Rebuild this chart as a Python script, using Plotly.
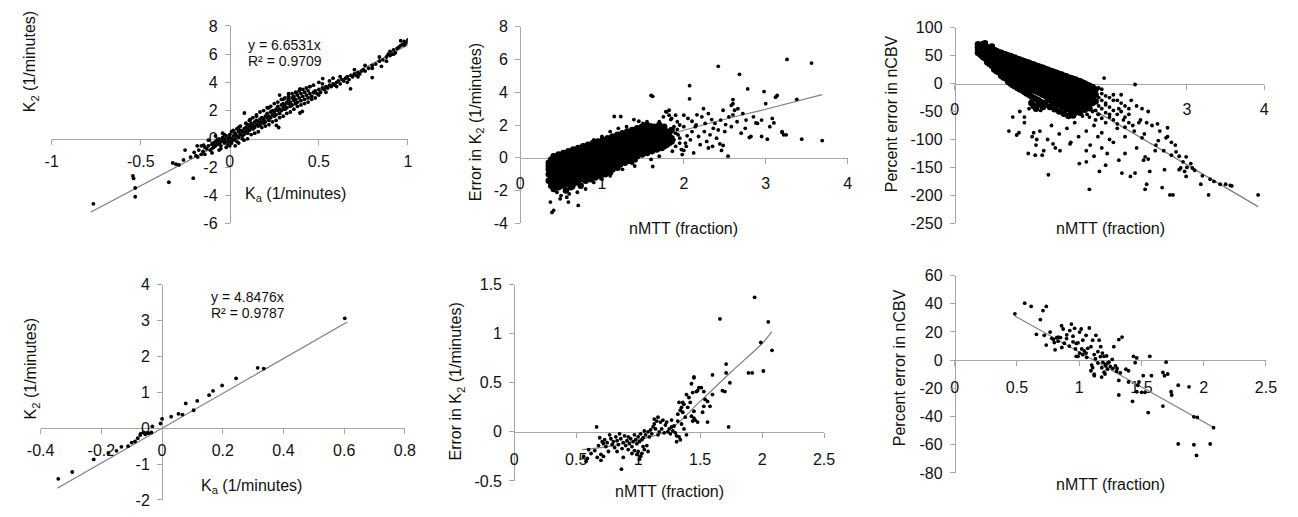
import plotly.graph_objects as go

# The page body keeps its default 8 px margin, so the figure is 16 px smaller
# than the window and all reference pixel positions are shifted by OFF.
WIN_W, WIN_H = 1298, 517
OFF = 8
W, H = WIN_W - 2 * OFF, WIN_H - 2 * OFF

# ---------------- Panel A (top-left): K2 vs Ka ----------------
A_points = [
    (-0.766, -4.61), (-0.544, -2.63), (-0.54, -2.81), (-0.531, -3.49), (-0.531, -4.11),
    (-0.342, -3.08), (-0.205, -2.79), (-0.32, -1.71), (-0.302, -1.80), (-0.285, -1.85),
    (-0.251, -0.80), (-0.20, -0.96), (-0.174, -0.80), (-0.183, -0.50), (-0.147, -0.46),
    (-0.22, -1.3), (-0.19, -1.2), (-0.16, -1.1), (-0.14, -0.6), (-0.26, -1.5),
    (-0.15, -0.9), (-0.13, -0.7), (-0.12, -0.5), (-0.11, -0.8), (-0.10, -0.4), (-0.10, -0.7),
    (-0.09, -0.3), (-0.09, -0.6), (-0.08, -0.5), (-0.08, -0.2), (-0.07, -0.4), (-0.07, -0.1),
    (-0.06, -0.3), (-0.06, 0.0), (-0.05, -0.5), (-0.05, -0.2), (-0.04, -0.1), (-0.04, 0.1),
    (-0.03, -0.3), (-0.03, 0.0), (-0.02, 0.2), (-0.02, -0.2), (-0.01, 0.0), (-0.01, -0.4),
    (0.0, 0.1), (0.0, -0.2), (0.0, 0.3), (0.01, 0.0), (0.01, -0.3), (0.02, 0.2), (0.02, -0.1),
    (0.03, 0.4), (0.03, 0.0), (0.04, 0.2), (0.04, -0.2), (0.05, 0.5), (0.05, 0.1), (0.06, 0.3),
    (0.06, 0.6), (0.07, 0.2), (0.07, 0.5), (0.08, 0.7), (0.08, 0.3), (0.09, 0.5), (0.09, 0.8),
    (0.10, 0.4), (0.10, 0.7), (0.11, 0.9), (0.11, 0.6), (0.12, 0.8), (0.12, 1.1), (0.13, 0.7),
    (0.13, 1.0), (0.14, 1.2), (0.14, 0.8), (0.15, 1.0), (0.15, 1.3), (0.16, 0.9), (0.16, 1.2),
    (0.17, 1.4), (0.17, 1.0), (0.18, 1.2), (0.18, 1.5), (0.19, 1.1), (0.19, 1.4), (0.20, 1.6),
    (0.20, 1.2), (0.21, 1.5), (0.21, 1.8), (0.22, 1.3), (0.22, 1.6), (0.23, 1.9), (0.23, 1.5),
    (0.24, 1.7), (0.24, 2.0), (0.25, 1.6), (0.25, 1.9), (0.26, 2.1), (0.26, 1.7), (0.27, 2.0),
    (0.27, 2.3), (0.28, 1.8), (0.28, 2.1), (0.29, 2.4), (0.29, 2.0), (0.30, 2.2), (0.30, 2.5),
    (0.31, 2.1), (0.31, 2.4), (0.32, 2.6), (0.32, 2.2), (0.33, 2.5), (0.33, 2.8), (0.34, 2.3),
    (0.34, 2.6), (0.35, 2.9), (0.35, 2.4), (0.36, 2.7), (0.36, 3.0), (0.37, 2.5), (0.37, 2.8),
    (0.38, 3.1), (0.38, 2.6), (0.39, 2.9), (0.40, 3.2), (0.40, 2.7), (0.41, 3.0), (0.42, 3.3),
    (0.42, 2.8), (0.43, 3.1), (0.44, 3.4), (0.44, 2.9), (0.45, 3.2), (0.46, 3.0), (0.47, 3.3),
    (0.48, 3.4), (0.49, 3.2), (0.50, 3.5), (0.51, 3.3), (0.52, 3.6), (0.53, 3.5), (0.54, 3.7),
    (0.55, 3.6), (0.56, 3.8), (0.57, 3.7), (0.58, 3.9), (0.59, 3.8), (0.60, 4.0), (0.61, 4.1),
    (0.62, 3.9), (0.63, 4.2), (0.64, 4.1), (0.65, 4.3), (0.66, 4.4), (0.67, 4.2), (0.68, 4.5),
    (0.69, 4.4), (0.70, 4.6), (0.71, 4.5), (0.72, 4.7), (0.73, 4.6), (0.74, 4.8), (0.75, 4.9),
    (0.76, 4.8), (0.78, 5.0), (0.80, 5.2), (0.82, 5.3), (0.84, 5.5), (0.86, 5.6), (0.88, 5.8),
    (0.89, 6.0), (0.90, 6.2), (0.91, 6.0), (0.92, 6.3), (0.93, 6.1), (0.94, 6.4), (0.95, 6.5),
    (0.96, 6.6), (0.97, 6.7), (0.98, 6.9), (0.99, 6.8), (1.0, 7.0),
    (0.082, 1.83), (0.115, 1.37), (0.275, 0.80), (0.262, 0.95), (0.394, 3.54), (0.375, 3.25),
    (0.394, 1.83), (0.407, 1.94), (0.522, 4.27), (0.678, 3.54), (0.80, 4.34), (0.852, 5.14),
    (1.007, 7.08), (0.96, 6.95), (0.98, 6.65), (0.92, 6.0), (0.90, 5.9), (0.15, 1.6),
    (0.22, 2.2), (0.30, 2.8), (0.28, 3.1), (0.33, 3.2), (0.45, 3.7), (0.5, 4.0), (0.58, 4.3),
    (0.02, 0.6), (0.03, -0.5), (0.05, -0.3), (0.06, 0.9), (0.08, -0.1), (0.09, 1.1), (0.10, 0.0),
    (0.11, 1.3), (0.12, 0.3), (0.13, 1.5), (0.14, 0.4), (0.15, 1.7), (0.16, 0.5), (0.17, 1.9),
    (0.18, 0.8), (0.19, 2.0), (0.20, 0.9), (0.21, 2.2), (0.22, 1.0), (0.23, 2.3), (0.24, 1.2),
    (0.25, 2.5), (0.26, 1.3), (0.27, 2.6), (0.28, 1.5), (0.29, 2.8), (0.30, 1.6), (0.31, 2.9),
    (0.32, 1.8), (0.33, 3.0), (0.34, 1.9), (0.35, 3.2), (0.36, 2.1), (0.37, 3.3), (0.38, 2.3),
    (0.39, 3.4), (0.40, 2.4), (0.41, 3.5), (0.42, 2.5), (0.43, 3.6), (0.44, 2.6), (0.45, 3.7),
    (0.46, 2.8), (0.47, 3.8), (0.48, 2.9), (0.50, 3.1), (0.52, 3.9), (0.54, 3.3), (0.56, 4.1),
    (0.60, 3.7), (0.62, 4.4), (0.66, 4.0), (0.70, 4.9), (0.72, 4.4), (0.76, 5.2), (0.80, 5.0),
    (0.84, 5.8), (0.88, 5.5), (-0.02, -0.6), (-0.04, 0.4), (-0.06, -0.8), (-0.08, 0.2),
    (-0.10, -1.0), (-0.12, -0.1), (-0.14, -1.1), (-0.16, -0.5), (-0.18, -1.3), (0.0, -0.5),
    (0.01, 0.5), (0.04, 0.7), (0.07, 0.0), (0.10, 1.0), (0.05, 0.8), (-0.03, 0.3), (-0.05, -0.7),
]
A_slope = 6.6531
A_fit_x = [-0.78, 1.0]

# ---------------- Panel B (top-middle): Error in K2 vs nMTT ----------------
B_columns = {
    0.35: [-0.3, -0.7, -1.0, -1.4, -0.5],
    0.38: [-0.1, -0.6, -0.9, -1.2, -1.7, -0.4],
    0.41: [0.1, -0.3, -0.8, -1.1, -1.5, -1.9, -0.6],
    0.44: [-0.2, -0.5, -0.9, -1.3, -1.6, 0.0, -0.7],
    0.47: [0.2, -0.1, -0.4, -0.8, -1.2, -1.8, -0.6, -1.0],
    0.50: [0.0, -0.3, -0.6, -0.9, -1.1, -1.4, -1.7, -0.2],
    0.53: [0.3, -0.2, -0.5, -0.8, -1.3, -1.5, -0.1, -1.0],
    0.56: [0.1, -0.4, -0.7, -1.0, -1.2, -1.6, -2.0, -0.3],
    0.59: [0.4, 0.0, -0.3, -0.6, -0.9, -1.3, -1.5, -0.5],
    0.62: [0.2, -0.1, -0.5, -0.8, -1.1, -1.4, -1.8, -0.3],
    0.65: [0.5, 0.1, -0.2, -0.6, -0.9, -1.2, -0.4, -1.6],
    0.68: [0.3, 0.0, -0.4, -0.7, -1.0, -1.3, -0.2, -1.5],
    0.71: [0.6, 0.2, -0.1, -0.5, -0.8, -1.1, -1.4, -0.3],
    0.74: [0.4, 0.1, -0.3, -0.6, -0.9, -1.2, -0.1, -1.7],
    0.77: [0.7, 0.3, 0.0, -0.4, -0.7, -1.0, -1.3, -0.2],
    0.80: [0.5, 0.2, -0.2, -0.5, -0.8, -1.1, 0.0, -1.4],
    0.83: [0.8, 0.4, 0.1, -0.3, -0.6, -0.9, -1.2, -0.1],
    0.86: [0.6, 0.3, -0.1, -0.4, -0.7, -1.0, 0.1, -1.3],
    0.89: [0.9, 0.5, 0.2, -0.2, -0.5, -0.8, -1.1, 0.0],
    0.92: [0.7, 0.4, 0.0, -0.3, -0.6, -0.9, 0.2, -1.2],
    0.95: [1.0, 0.6, 0.3, -0.1, -0.4, -0.7, -1.0, 0.1],
    0.98: [0.8, 0.5, 0.2, -0.2, -0.5, -0.8, 0.0, -1.1],
    1.01: [1.1, 0.7, 0.4, 0.0, -0.3, -0.6, -0.9, 0.2],
    1.04: [0.9, 0.6, 0.3, -0.1, -0.4, -0.7, 0.1, -1.0],
    1.07: [1.2, 0.8, 0.5, 0.1, -0.2, -0.5, -0.8, 0.3],
    1.10: [1.0, 0.7, 0.4, 0.0, -0.3, -0.6, 0.2, -0.9],
    1.13: [1.3, 0.9, 0.6, 0.2, -0.1, -0.4, -0.7, 0.4],
    1.16: [1.1, 0.8, 0.5, 0.1, -0.2, -0.5, 0.3],
    1.19: [1.4, 1.0, 0.7, 0.3, 0.0, -0.3, -0.6, 0.5],
    1.22: [1.2, 0.9, 0.6, 0.2, -0.1, -0.4, 0.4],
    1.25: [1.5, 1.1, 0.8, 0.4, 0.1, -0.2, 0.6],
    1.28: [1.3, 1.0, 0.7, 0.3, 0.0, -0.3, 0.5],
    1.31: [1.6, 1.2, 0.9, 0.5, 0.2, -0.1, 0.7],
    1.34: [1.4, 1.1, 0.8, 0.4, 0.1, -0.2, 0.6],
    1.37: [1.7, 1.3, 1.0, 0.6, 0.3, 0.0, 0.8],
    1.40: [1.5, 1.2, 0.9, 0.5, 0.2, -0.1, 0.7],
    1.43: [1.8, 1.4, 1.1, 0.7, 0.4, 0.1],
    1.46: [1.6, 1.3, 1.0, 0.6, 0.3, 0.8],
    1.49: [1.9, 1.5, 1.2, 0.8, 0.5, 0.2],
    1.52: [1.7, 1.4, 1.1, 0.7, 0.4, 0.9],
    1.55: [2.0, 1.6, 1.3, 0.9, 0.6, 0.3],
    1.58: [1.8, 1.5, 1.2, 0.8, 0.5, 1.0],
    1.61: [1.7, 1.4, 1.1, 0.7, 0.4],
    1.64: [1.9, 1.6, 1.3, 0.9, 0.6],
    1.67: [1.8, 1.5, 1.2, 0.8, 0.5],
    1.70: [2.0, 1.4, 1.1, 0.9, 0.7],
    1.73: [1.7, 1.3, 1.0, 0.8, 0.6],
    1.76: [1.9, 1.5, 1.2, 0.9, 0.7],
    1.79: [1.6, 1.3, 1.0, 0.8],
    1.82: [1.4, 1.1, 0.9],
    1.85: [1.7, 1.2, 1.0],
}
B_scatter = [
    (3.26, 6.0), (3.56, 5.78), (2.42, 5.58), (2.68, 5.09), (2.78, 4.2), (2.07, 4.4), (2.07, 3.6),
    (1.60, 3.8), (1.62, 3.75), (2.98, 4.04), (3.14, 3.8), (3.12, 3.7), (3.38, 3.57), (3.69, 1.05),
    (3.44, 1.14), (3.22, 1.40), (3.20, 1.55), (3.02, 1.14), (3.10, 2.13), (2.95, 1.30), (2.80, 1.24),
    (2.88, 2.13), (2.60, 2.62), (2.58, 3.2), (2.60, 3.55), (2.51, 2.03), (2.46, 0.45), (2.54, 0.1),
    (2.44, 0.85), (2.48, 0.75), (2.34, 2.33), (2.24, 3.0), (2.16, 2.62), (2.10, 2.23), (2.04, 1.34),
    (2.00, 0.45), (1.92, 1.74), (1.84, 2.33), (1.78, 2.82), (1.66, 1.64), (1.45, 2.23), (1.39, 2.33),
    (1.23, 2.52), (1.15, 2.52), (1.62, -0.53), (1.37, -0.33), (0.37, -2.70), (0.41, -3.2),
    (0.39, -3.33), (0.49, -2.5), (0.59, -2.7), (0.71, -2.9), (0.57, -2.4),
    (1.88, 1.9), (1.90, 0.7), (1.92, 2.2), (1.95, 1.2), (1.97, 0.5), (2.00, 1.9), (2.02, 0.9),
    (2.05, 2.4), (2.08, 1.1), (2.10, 1.6), (2.12, 0.3), (2.15, 2.0), (2.18, 1.3), (2.20, 0.8),
    (2.22, 2.5), (2.25, 1.6), (2.28, 1.0), (2.30, 2.7), (2.32, 1.4), (2.35, 0.7), (2.38, 2.1),
    (2.40, 1.2), (2.42, 1.7), (2.45, 2.3), (2.50, 1.6), (2.55, 2.5), (2.58, 1.9), (2.62, 2.9),
    (2.65, 2.2), (2.70, 1.5), (2.72, 2.7), (2.75, 1.8), (2.82, 1.3), (2.85, 2.5), (2.90, 2.1),
    (3.05, 1.9), (3.08, 2.4), (3.20, 1.6), (3.25, 1.4), (2.00, 2.6), (1.85, 2.4), (1.82, 2.9),
    (2.14, 1.9), (2.26, 2.1), (2.36, 1.8), (1.86, 0.4), (1.98, 0.2), (2.03, 0.7), (2.30, 0.6),
    (2.48, 2.9), (2.60, 3.3), (2.66, 3.0), (2.76, 2.3), (2.95, 2.3), (3.00, 3.3), (1.70, 2.2),
    (1.75, 2.5), (1.60, 2.0), (1.55, 2.2), (1.50, 2.1), (1.30, 1.9), (1.20, 1.8), (1.10, 1.6),
    (1.00, 1.3), (0.90, 1.1), (1.40, -0.5), (1.25, -0.7), (1.60, -0.1), (1.70, 0.1), (0.80, -1.9),
    (0.70, -2.1), (0.60, -2.2), (0.50, -2.3), (0.45, -2.1), (0.55, -1.9), (0.65, -1.8),
    (0.90, -1.5), (1.00, -1.3), (1.10, -1.1), (1.79, 2.8), (1.82, 2.6), (1.90, 2.6), (1.90, 1.5),
    (1.95, 2.0), (1.95, 0.9), (1.93, 1.4), (1.88, 1.1),
]
B_fit_x = [0.35, 0.7, 1.0, 1.4, 1.76, 2.0, 2.5, 3.0, 3.69]
B_fit_y = [-1.12, -0.45, 0.1, 0.78, 1.34, 1.68, 2.35, 2.96, 3.85]

# ---------------- Panel C (top-right): Percent error in nCBV vs nMTT ----------------
C_columns = {
    0.30: [70, 65, 60, 55],
    0.33: [68, 62, 57, 52, 66],
    0.36: [70, 64, 58, 53, 48],
    0.39: [67, 61, 55, 50, 45, 72],
    0.42: [65, 59, 53, 47, 42, 38],
    0.45: [63, 57, 51, 45, 40, 35],
    0.48: [61, 55, 49, 43, 37, 32, 66],
    0.51: [60, 54, 48, 42, 36, 30, 25],
    0.54: [58, 52, 46, 40, 34, 28, 22],
    0.57: [56, 50, 44, 38, 32, 26, 20],
    0.60: [55, 49, 43, 37, 31, 25, 19, 14],
    0.63: [53, 47, 41, 35, 29, 23, 17, 11],
    0.66: [52, 46, 40, 34, 28, 22, 16, 9],
    0.69: [50, 44, 38, 32, 26, 20, 14, 7, 3],
    0.72: [49, 43, 37, 31, 25, 19, 13, 6, 0],
    0.75: [47, 41, 35, 29, 23, 17, 11, 4, -3],
    0.78: [46, 40, 34, 28, 22, 16, 10, 3, -5],
    0.81: [44, 38, 32, 26, 20, 14, 8, 1, -8],
    0.84: [43, 37, 31, 25, 19, 13, 7, 0, -10],
    0.87: [41, 35, 29, 23, 17, 11, 5, -2, -12],
    0.90: [40, 34, 28, 22, 16, 10, 4, -4, -15],
    0.93: [38, 32, 26, 20, 14, 8, 2, -6, -18],
    0.96: [37, 31, 25, 19, 13, 7, 1, -8, -20],
    0.99: [35, 29, 23, 17, 11, 5, -1, -10, -23, -35],
    1.02: [34, 28, 22, 16, 10, 4, -3, -12, -26, -40],
    1.05: [32, 26, 20, 14, 8, 2, -5, -14, -28, -45],
    1.08: [31, 25, 19, 13, 7, 1, -7, -16, -30, -38],
    1.11: [29, 23, 17, 11, 5, -1, -9, -18, -33],
    1.14: [28, 22, 16, 10, 4, -2, -11, -20, -35, -42],
    1.17: [26, 20, 14, 8, 2, -4, -13, -22, -37],
    1.20: [25, 19, 13, 7, 1, -5, -15, -24, -30],
    1.23: [23, 17, 11, 5, -1, -7, -17, -26, -42],
    1.26: [22, 16, 10, 4, -2, -8, -19, -28, -35],
    1.29: [20, 14, 8, 2, -4, -10, -21, -30, -46],
    1.32: [19, 13, 7, 1, -5, -12, -23, -32, -38],
    1.35: [17, 11, 5, -1, -7, -14, -25, -34, -50],
    1.38: [16, 10, 4, -2, -8, -16, -27, -36, -43],
    1.41: [14, 8, 2, -4, -10, -18, -29, -38, -54],
    1.44: [13, 7, 1, -5, -12, -20, -31, -40, -46],
    1.47: [11, 5, -1, -7, -14, -22, -33, -42, -58],
    1.50: [10, 4, -2, -8, -16, -24, -35, -44, -50],
    1.53: [8, 2, -4, -10, -18, -26, -37, -46, -57],
    1.56: [7, 1, -5, -12, -20, -28, -39, -48],
    1.59: [5, -1, -7, -14, -22, -30, -41],
    1.62: [4, -2, -9, -16, -24, -32, -43, -52],
    1.65: [2, -4, -11, -18, -26, -34, -45],
    1.68: [0, -6, -13, -20, -28, -36, -47],
    1.71: [-2, -9, -16, -24, -32, -40],
    1.74: [-4, -12, -20, -30, -44],
    1.78: [-6, -15, -25, -35],
    1.82: [-10, -20, -32],
}
C_scatter = [
    (1.93, 9.8), (2.33, -1.7), (3.92, -199), (3.56, -182), (3.58, -183), (3.43, -180), (3.28, -199),
    (3.18, -180), (3.30, -171), (3.05, -143), (3.07, -151), (2.99, -131), (2.97, -157), (2.99, -166),
    (2.90, -154), (2.92, -151), (2.80, -128), (2.86, -122), (2.82, -199), (2.78, -199), (2.71, -154),
    (2.75, -79), (2.73, -97), (2.63, -102), (2.59, -120), (2.52, -157), (2.48, -180), (2.44, -137),
    (2.46, -131), (2.42, -97), (2.38, -70), (2.33, -160), (2.27, -166), (2.16, -160), (2.12, -137),
    (1.97, -125), (1.95, -146), (1.87, -157), (1.74, -189), (1.70, -120), (1.61, -143), (1.49, -108),
    (1.36, -120), (1.27, -108), (1.21, -163), (1.13, -128), (1.04, -128), (0.83, -88), (1.02, -88),
    (1.06, -100), (2.46, -189), (2.68, -186), (0.70, -85), (0.80, -92), (0.90, -70), (1.00, -95),
    (1.05, -110), (1.10, -85), (1.20, -100), (1.25, -75), (1.30, -115), (1.35, -90), (1.45, -80),
    (1.50, -105), (1.55, -70), (1.60, -95), (1.70, -85), (1.75, -110), (1.80, -75), (1.85, -95),
    (1.90, -88), (2.00, -100), (0.95, -125), (1.15, -120), (0.75, -60),
    (1.90, -10), (1.95, -35), (2.00, -55), (2.05, -30), (2.10, -80), (2.15, -20), (2.20, -95),
    (2.25, -55), (2.30, -75), (2.35, -40), (2.40, -65), (2.45, -90), (2.50, -50), (2.55, -75),
    (2.60, -110), (2.65, -85), (2.70, -120), (2.75, -95), (2.80, -105), (2.85, -110), (2.90, -130),
    (2.95, -140), (3.00, -150), (3.10, -155), (3.20, -165), (3.35, -175), (3.50, -180),
    (2.05, -105), (2.20, -125), (2.35, -115), (2.50, -135), (1.90, -115), (1.80, -130),
    (1.70, -140), (1.85, -55), (2.12, -45), (2.28, -30), (2.42, -45), (2.18, -65), (2.32, -85),
    (2.48, -70), (2.62, -72), (0.84, -50), (0.90, -60), (0.96, -45), (1.11, -48), (1.20, -40),
    (1.26, -44), (1.32, -48), (1.38, -52), (1.44, -56), (1.56, -55), (1.59, -52), (1.65, -58),
    (1.71, -55), (1.74, -60), (1.78, -50), (1.82, -48), (1.82, -65), (1.86, -8), (1.86, -25),
    (1.86, -40), (1.86, -55), (1.90, -18), (1.90, -30), (1.90, -45), (1.90, -62), (1.95, -22),
    (1.95, -38), (1.95, -52), (1.95, -70), (2.00, -25), (2.00, -42), (2.00, -60), (2.05, -20),
    (2.05, -48), (2.05, -65), (2.10, -30), (2.10, -55), (2.10, -72), (2.15, -35), (2.15, -50),
    (2.20, -40), (2.20, -60), (2.20, -78), (2.25, -45), (2.25, -70),
]
C_fit_x = [0.30, 3.92]
C_fit_y = [74.5, -220]
C_xtick_vals = [0, 3, 4]   # labels 1 and 2 are hidden under the point cloud in the source

# ---------------- Panel D (bottom-left): K2 vs Ka ----------------
D_points = [
    (0.602, 3.06), (0.315, 1.68), (0.335, 1.66), (0.244, 1.39), (0.198, 1.19), (0.168, 1.04),
    (0.155, 0.92), (0.116, 0.76), (0.104, 0.50), (0.078, 0.69), (0.067, 0.38), (0.054, 0.40),
    (0.030, 0.32), (0.0, 0.26), (-0.005, 0.13), (-0.032, 0.05), (-0.06, -0.12), (-0.05, -0.13),
    (-0.045, -0.14), (-0.035, -0.12), (-0.07, -0.15), (-0.055, -0.17), (-0.072, -0.19),
    (-0.08, -0.28), (-0.089, -0.37), (-0.10, -0.40), (-0.112, -0.50), (-0.134, -0.52),
    (-0.15, -0.63), (-0.177, -0.69), (-0.225, -0.87), (-0.296, -1.22), (-0.342, -1.41),
]
D_slope = 4.8476
D_fit_x = [-0.345, 0.61]

# ---------------- Panel E (bottom-middle): Error in K2 vs nMTT ----------------
E_points = [
    (1.94, 1.37), (1.66, 1.15), (2.05, 1.12), (1.99, 0.91), (2.08, 0.83), (1.71, 0.69), (1.71, 0.60),
    (1.89, 0.60), (1.92, 0.60), (2.01, 0.62), (1.74, 0.50), (1.68, 0.42), (1.70, 0.41), (1.60, 0.58),
    (1.45, 0.56), (1.43, 0.49), (1.47, 0.41), (1.48, 0.42), (1.53, 0.41), (1.51, 0.45), (1.60, 0.38),
    (1.56, 0.31), (1.58, 0.26), (1.56, 0.10), (1.39, 0.38), (1.36, 0.30), (1.33, 0.30), (1.35, 0.25),
    (1.34, 0.22), (1.32, 0.18), (1.45, 0.21), (1.43, 0.16), (1.45, 0.14), (1.46, 0.12), (1.44, 0.11),
    (1.48, 0.10), (1.73, 0.05), (1.32, 0.11), (1.29, 0.06), (1.27, 0.05),
    (1.20, 0.12), (1.18, 0.10), (1.15, 0.11), (1.13, 0.08), (1.22, 0.07), (1.25, 0.03), (1.24, 0.00),
    (1.26, -0.02), (1.28, 0.01), (1.30, -0.01), (1.31, -0.04), (1.33, -0.05), (1.21, -0.01),
    (1.19, 0.03), (1.17, 0.00), (1.16, -0.03), (1.14, 0.03), (1.12, 0.05), (1.10, 0.02), (1.11, -0.02),
    (1.09, -0.05), (1.08, 0.00), (1.06, -0.03), (1.05, 0.01), (1.04, -0.06), (1.03, -0.08),
    (1.02, -0.02), (1.01, -0.10), (1.00, -0.05), (0.99, -0.12), (0.98, -0.08), (0.97, -0.03),
    (0.96, -0.10), (0.95, -0.15), (0.94, -0.07), (0.93, -0.12), (0.92, -0.05), (0.91, -0.09),
    (0.90, -0.14), (0.89, -0.04), (0.88, -0.11), (0.87, -0.17), (0.86, -0.07), (0.85, -0.02),
    (0.84, -0.13), (0.83, -0.09), (0.82, -0.05), (0.81, -0.16), (0.80, -0.10), (0.79, -0.13),
    (0.78, -0.07), (0.77, -0.03), (0.76, -0.20), (0.75, -0.11), (0.74, -0.15), (0.73, -0.08),
    (0.72, -0.12), (0.71, -0.10), (0.70, -0.23), (0.69, -0.06), (0.68, -0.14), (0.67, -0.26),
    (0.665, 0.05), (0.65, -0.19), (0.62, -0.22), (0.60, -0.18), (0.58, -0.30), (0.56, -0.25),
    (0.59, -0.27), (1.00, -0.20), (1.02, -0.25), (1.03, -0.22), (1.05, -0.18), (1.01, -0.28),
    (0.99, -0.23), (1.07, -0.14), (1.08, -0.20), (0.97, -0.19), (1.04, -0.15), (0.865, -0.38),
    (0.70, -0.29), (0.72, -0.25), (0.83, -0.20), (0.88, -0.26), (0.92, -0.18), (0.95, -0.22),
    (1.13, 0.13), (1.16, 0.15), (1.23, 0.10), (1.27, 0.12), (1.35, 0.08), (1.38, 0.15),
    (1.40, 0.25), (1.42, 0.30), (1.31, -0.10), (1.34, -0.08), (1.37, 0.03), (1.39, -0.03),
    (1.36, 0.20), (1.41, 0.35), (1.44, 0.40), (1.37, 0.28), (1.53, 0.26), (1.54, 0.33),
    (1.52, 0.20), (1.49, 0.45), (1.45, 0.55),
]
E_fit_x = [0.55, 0.75, 1.0, 1.25, 1.5, 1.75, 2.0, 2.08]
E_fit_y = [-0.18, -0.15, -0.08, 0.02, 0.31, 0.61, 0.90, 1.02]

# ---------------- Panel F (bottom-right): Percent error in nCBV vs nMTT ----------------
F_points = [
    (0.483, 32.9), (0.562, 40.4), (0.614, 38.1), (0.735, 38.1), (0.709, 35.2), (0.688, 28.8),
    (0.656, 18.3), (0.719, 17.6), (0.735, 10.7), (0.766, 19.9), (0.793, 14.6), (0.819, 16.0),
    (0.832, 16.4), (0.806, 7.3), (0.858, 24.4), (0.871, 22.1), (0.898, 15.3), (0.924, 21.0),
    (0.937, 25.6), (0.963, 22.6), (0.950, 13.0), (0.976, 11.9), (0.990, 12.3), (1.003, 19.9),
    (1.016, 22.1), (1.081, 22.8), (1.055, 17.6), (1.029, 14.2), (0.976, 2.7), (0.990, 2.7),
    (1.003, 5.0), (1.029, 3.9), (1.055, 5.0), (1.068, 8.4), (1.094, 9.6), (1.108, 14.2),
    (1.134, 17.6), (1.160, 14.2), (1.173, 9.6), (1.186, 5.0), (1.199, 2.7), (1.213, -4.1),
    (1.239, -1.4), (1.265, 0.5), (1.108, -5.3), (1.094, -7.5), (1.121, -11.0), (1.181, -5.3),
    (1.207, -9.8), (1.226, -6.4), (1.291, -4.1), (1.304, -5.9), (1.344, 16.4), (1.318, 14.6),
    (1.278, 9.6), (1.375, -6.4), (1.396, -7.5), (1.396, -15.5), (1.318, -14.4), (1.436, 2.7),
    (1.449, -1.8), (1.462, 1.6), (1.428, -29.2), (1.462, -22.4), (1.470, -17.8), (1.480, -15.5),
    (1.501, -22.8), (1.514, -11.0), (1.318, -24.7), (1.567, 2.7), (1.580, -11.0), (1.528, -22.8),
    (1.554, -37.2), (1.672, -8.7), (1.685, -11.0), (1.698, -1.4), (1.711, -9.8), (1.738, -22.4),
    (1.672, -32.6), (1.743, -24.7), (1.795, -17.8), (1.882, -18.9), (1.921, -40.2), (1.948, -40.6),
    (1.921, -60.0), (1.942, -67.6), (1.795, -59.4), (2.052, -59.4), (2.079, -47.9),
    (1.02, 8.0), (1.04, 6.5), (1.06, 2.0), (1.12, 4.0), (1.15, 6.0), (1.17, 2.5), (1.19, -1.5),
    (1.21, -3.0), (1.23, -2.0), (1.25, -4.5), (1.15, -2.0), (1.10, -3.5), (1.13, 1.0), (1.22, 3.0),
    (1.27, -6.0), (1.30, -8.0), (1.33, -9.0), (1.20, -8.5), (1.18, -12.0), (1.12, -10.0),
    (0.85, 16.0), (0.88, 12.0), (0.90, 18.0), (0.92, 10.0), (0.95, 17.0), (0.97, 8.0),
    (0.80, 12.5), (0.78, 15.5), (0.83, 13.5), (0.86, 9.0),
]
F_fit_x = [0.483, 2.084]
F_fit_y = [31.3, -48.0]


def unzip(pts):
    return [p[0] for p in pts], [p[1] for p in pts]


def cols_to_xy(cols):
    xs, ys = [], []
    for x, yl in cols.items():
        for y in yl:
            xs.append(x)
            ys.append(y)
    return xs, ys


Ax, Ay = unzip(A_points)
Bx1, By1 = cols_to_xy(B_columns)
Bx2, By2 = unzip(B_scatter)
Cx1, Cy1 = cols_to_xy(C_columns)
Cx2, Cy2 = unzip(C_scatter)
Dx, Dy = unzip(D_points)
Ex, Ey = unzip(E_points)
Fx, Fy = unzip(F_points)

# (dense-core points, other points, fit x, fit y, fit shape)
series = [
    ([], [], Ax, Ay, A_fit_x, [A_slope * v for v in A_fit_x], "linear"),
    (Bx1, By1, Bx2, By2, B_fit_x, B_fit_y, "spline"),
    (Cx1, Cy1, Cx2, Cy2, C_fit_x, C_fit_y, "linear"),
    ([], [], Dx, Dy, D_fit_x, [D_slope * v for v in D_fit_x], "linear"),
    ([], [], Ex, Ey, E_fit_x, E_fit_y, "spline"),
    ([], [], Fx, Fy, F_fit_x, F_fit_y, "linear"),
]


def fmt(v):
    s = ("%.2f" % v).rstrip("0").rstrip(".")
    return "0" if s in ("-0", "") else s


# pixel boxes of each plot area, in window (reference) pixels
panels = [
    dict(xr=[-1, 1], xd=0.5, yr=[-6, 8], yd=2, px=(38.3, 401.5), py=(18.3, 222.7), sx=3),
    dict(xr=[0, 4], xd=1, yr=[-4, 8], yd=2, px=(516, 850), py=(19, 222.7), sx=6),
    dict(xr=[0, 4], xd=1, yr=[-250, 100], yd=50, px=(959.3, 1275), py=(20, 222.7), sx=6,
         xtv=C_xtick_vals),
    dict(xr=[-0.4, 0.8], xd=0.2, yr=[-2, 4], yd=1, px=(27, 398.5), py=(286, 509), sx=3),
    dict(xr=[0, 2.5], xd=0.5, yr=[-0.5, 1.5], yd=0.5, px=(510, 826), py=(286, 489.3), sx=8),
    dict(xr=[0, 2.5], xd=0.5, yr=[-80, 60], yd=20, px=(959.3, 1276.7), py=(276.7, 481), sx=8),
]


def fx_(px):
    return (px - OFF) / W


def fy_(py):
    return 1 - (py - OFF) / H


AXC = "#a6a6a6"
FONT = "Liberation Sans, Arial, sans-serif"
tickfont = dict(family=FONT, size=16, color="#111111")

fig = go.Figure()
layout = dict(
    width=W, height=H, margin=dict(l=0, r=0, t=0, b=0, pad=0),
    paper_bgcolor="white", plot_bgcolor="white", showlegend=False,
)

for i, (p, s) in enumerate(zip(panels, series)):
    n = "" if i == 0 else str(i + 1)
    xmin, xmax = p["xr"]
    ymin, ymax = p["yr"]
    xd = [fx_(p["px"][0]), fx_(p["px"][1])]
    yd = [max(0.0, fy_(p["py"][1])), fy_(p["py"][0])]
    ypos = yd[0] + (0 - ymin) / (ymax - ymin) * (yd[1] - yd[0])
    xpos = xd[0] + (0 - xmin) / (xmax - xmin) * (xd[1] - xd[0])
    nx = int(round((xmax - xmin) / p["xd"]))
    ny = int(round((ymax - ymin) / p["yd"]))
    xtv = p.get("xtv", [xmin + k * p["xd"] for k in range(nx + 1)])
    ytv = [ymin + k * p["yd"] for k in range(ny + 1)]
    common = dict(showline=True, linecolor=AXC, linewidth=1, ticks="outside", ticklen=5,
                  tickcolor=AXC, tickwidth=1, showgrid=False, zeroline=False,
                  layer="below traces", tickfont=tickfont, anchor="free")
    layout["xaxis" + n] = dict(domain=xd, range=[xmin, xmax], position=ypos,
                               tickvals=xtv, ticktext=[fmt(v) for v in xtv],
                               ticklabelstandoff=p["sx"], **common)
    layout["yaxis" + n] = dict(domain=yd, range=[ymin, ymax], position=xpos,
                               tickvals=ytv, ticktext=[fmt(v) for v in ytv],
                               ticklabelstandoff=4, **common)
    cx, cy, ox, oy, fxs, fys, shape = s
    # trend line first, so the point cloud is drawn over it as in the source
    fig.add_trace(go.Scatter(x=fxs, y=fys, mode="lines",
                             line=dict(color="#7f7f7f", width=1.2, shape=shape),
                             xaxis="x" + n, yaxis="y" + n, hoverinfo="skip"))
    if cx:
        fig.add_trace(go.Scatter(x=cx, y=cy, mode="markers",
                                 marker=dict(size=6.5, color="black", line=dict(width=0)),
                                 xaxis="x" + n, yaxis="y" + n, hoverinfo="skip"))
    fig.add_trace(go.Scatter(x=ox, y=oy, mode="markers",
                             marker=dict(size=3.8, color="black", line=dict(width=0)),
                             xaxis="x" + n, yaxis="y" + n, hoverinfo="skip"))

K2 = "K<sub>2</sub> (1/minutes)"
KA = "K<sub>a</sub> (1/minutes)"
EK2 = "Error in K<sub>2</sub> (1/minutes)"
PCBV = "Percent error in nCBV"
NMTT = "nMTT (fraction)"

titles = [
    (K2, 17, 55, -90), (KA, 287, 193, 0),
    (EK2, 471, 118, -90), (NMTT, 683, 228, 0),
    (PCBV, 895, 109, -90), (NMTT, 1118, 228, 0),
    (K2, 18, 373, -90), (KA, 242, 495, 0),
    (EK2, 451, 386, -90), (NMTT, 668, 500, 0),
    (PCBV, 903, 372, -90), (NMTT, 1118, 493, 0),
]
ann = []
for t, x, y, a in titles:
    ann.append(dict(text=t, x=fx_(x), y=fy_(y), xref="paper", yref="paper",
                    xanchor="center", yanchor="middle", showarrow=False, textangle=a,
                    font=dict(family=FONT, size=16, color="#111111")))

eqs = [
    ("y = 6.6531x", 236, 38), ("R² = 0.9709", 236, 55),
    ("y = 4.8476x", 199, 299), ("R² = 0.9787", 199, 315),
]
for t, x, y in eqs:
    ann.append(dict(text=t, x=fx_(x), y=fy_(y), xref="paper", yref="paper",
                    xanchor="left", yanchor="middle", showarrow=False,
                    font=dict(family=FONT, size=14, color="#111111")))
layout["annotations"] = ann
fig.update_layout(**layout)

fig.write_html("out.html", config={"displayModeBar": False})
